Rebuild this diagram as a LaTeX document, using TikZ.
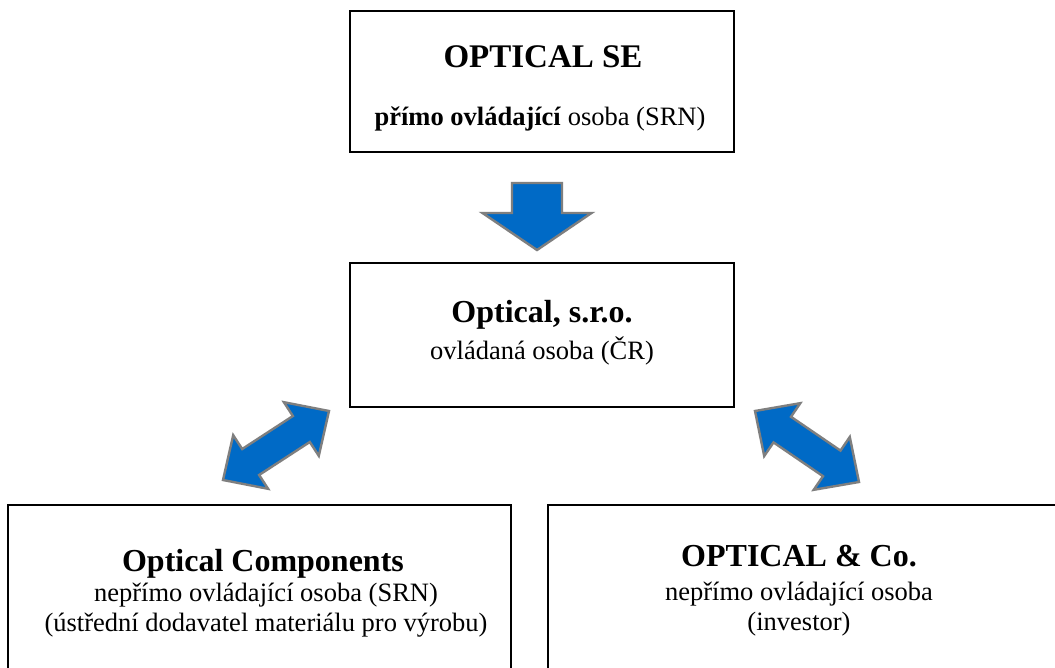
\documentclass[tikz,border=0pt]{standalone}
\usepackage{fontspec}
\setmainfont{Liberation Serif}
\usetikzlibrary{calc}
\definecolor{arrowblue}{HTML}{006AC6}
\definecolor{arrowgray}{HTML}{7F7F7F}
\tikzset{
  box/.style={draw=black, line width=2pt, rectangle, inner sep=0pt},
  blockarrow/.style={fill=arrowblue, draw=arrowgray, line width=2.4pt, line join=miter},
  ttl/.style={anchor=base, inner sep=0pt, font=\fontsize{32}{36}\selectfont\bfseries},
  sub/.style={anchor=base, inner sep=0pt, font=\fontsize{26.5}{30}\selectfont},
}
\newcommand\dblarrow[5]{%
  \coordinate (ba) at ($(#1)!#5!(#2)$);
  \coordinate (bb) at ($(#2)!#5!(#1)$);
  \draw[blockarrow] (#1) -- ($(ba)!#4!90:(#2)$) -- ($(ba)!#3!90:(#2)$)
    -- ($(bb)!#3!-90:(#1)$) -- ($(bb)!#4!-90:(#1)$) -- (#2)
    -- ($(bb)!#4!90:(#1)$) -- ($(bb)!#3!90:(#1)$)
    -- ($(ba)!#3!-90:(#2)$) -- ($(ba)!#4!-90:(#2)$) -- cycle;
}
\newcommand\sglarrow[5]{%
  \coordinate (bb) at ($(#2)!#5!(#1)$);
  \draw[blockarrow] ($(#1)!#3!90:(#2)$) -- ($(bb)!#3!-90:(#1)$) -- ($(bb)!#4!-90:(#1)$) -- (#2)
    -- ($(bb)!#4!90:(#1)$) -- ($(bb)!#3!90:(#1)$) -- ($(#1)!#3!-90:(#2)$) -- cycle;
}
\begin{document}
\begin{tikzpicture}[x=1pt, y=-1pt]
\useasboundingbox (0,0) rectangle (1055,667);
\fill[white] (0,0) rectangle (1055,667);
% boxes
\node[box, minimum width=384pt, minimum height=141pt] (top) at (542,81.5) {};
\node[box, minimum width=384pt, minimum height=144pt] (mid) at (542,335) {};
\node[box, minimum width=503pt, minimum height=220pt] (left) at (259.5,615) {};
\node[box, minimum width=520pt, minimum height=220pt] (right) at (808,615) {};
% texts
\node[ttl, font=\fontsize{33}{36}\selectfont\bfseries] (t1) at (543,67) {OPTICAL SE};
\node[sub] (t2) at (540,125) {\textbf{přímo ovládající} osoba (SRN)};
\node[ttl] (m1) at (542,322) {Optical, s.r.o.};
\node[sub] (m2) at (542,359) {ovládaná osoba (ČR)};
\node[ttl] (l1) at (263,571) {Optical Components};
\node[sub] (l2) at (266,601) {nepřímo ovládající osoba (SRN)};
\node[sub] (l3) at (266,631) {(ústřední dodavatel materiálu pro výrobu)};
\node[ttl] (r1) at (799,566) {OPTICAL \& Co.};
\node[sub] (r2) at (799,600) {nepřímo ovládající osoba};
\node[sub] (r3) at (799,630) {(investor)};
% arrows
\coordinate (da) at (537,183);
\coordinate (db) at (537,250);
\sglarrow{da}{db}{25pt}{54.5pt}{37pt}
\coordinate (la) at (223,480);
\coordinate (lb) at (329,411);
\dblarrow{la}{lb}{15.5pt}{32pt}{33pt}
\coordinate (ra) at (755,411);
\coordinate (rb) at (859,482);
\dblarrow{ra}{rb}{15.5pt}{32pt}{33pt}
\end{tikzpicture}
\end{document}
